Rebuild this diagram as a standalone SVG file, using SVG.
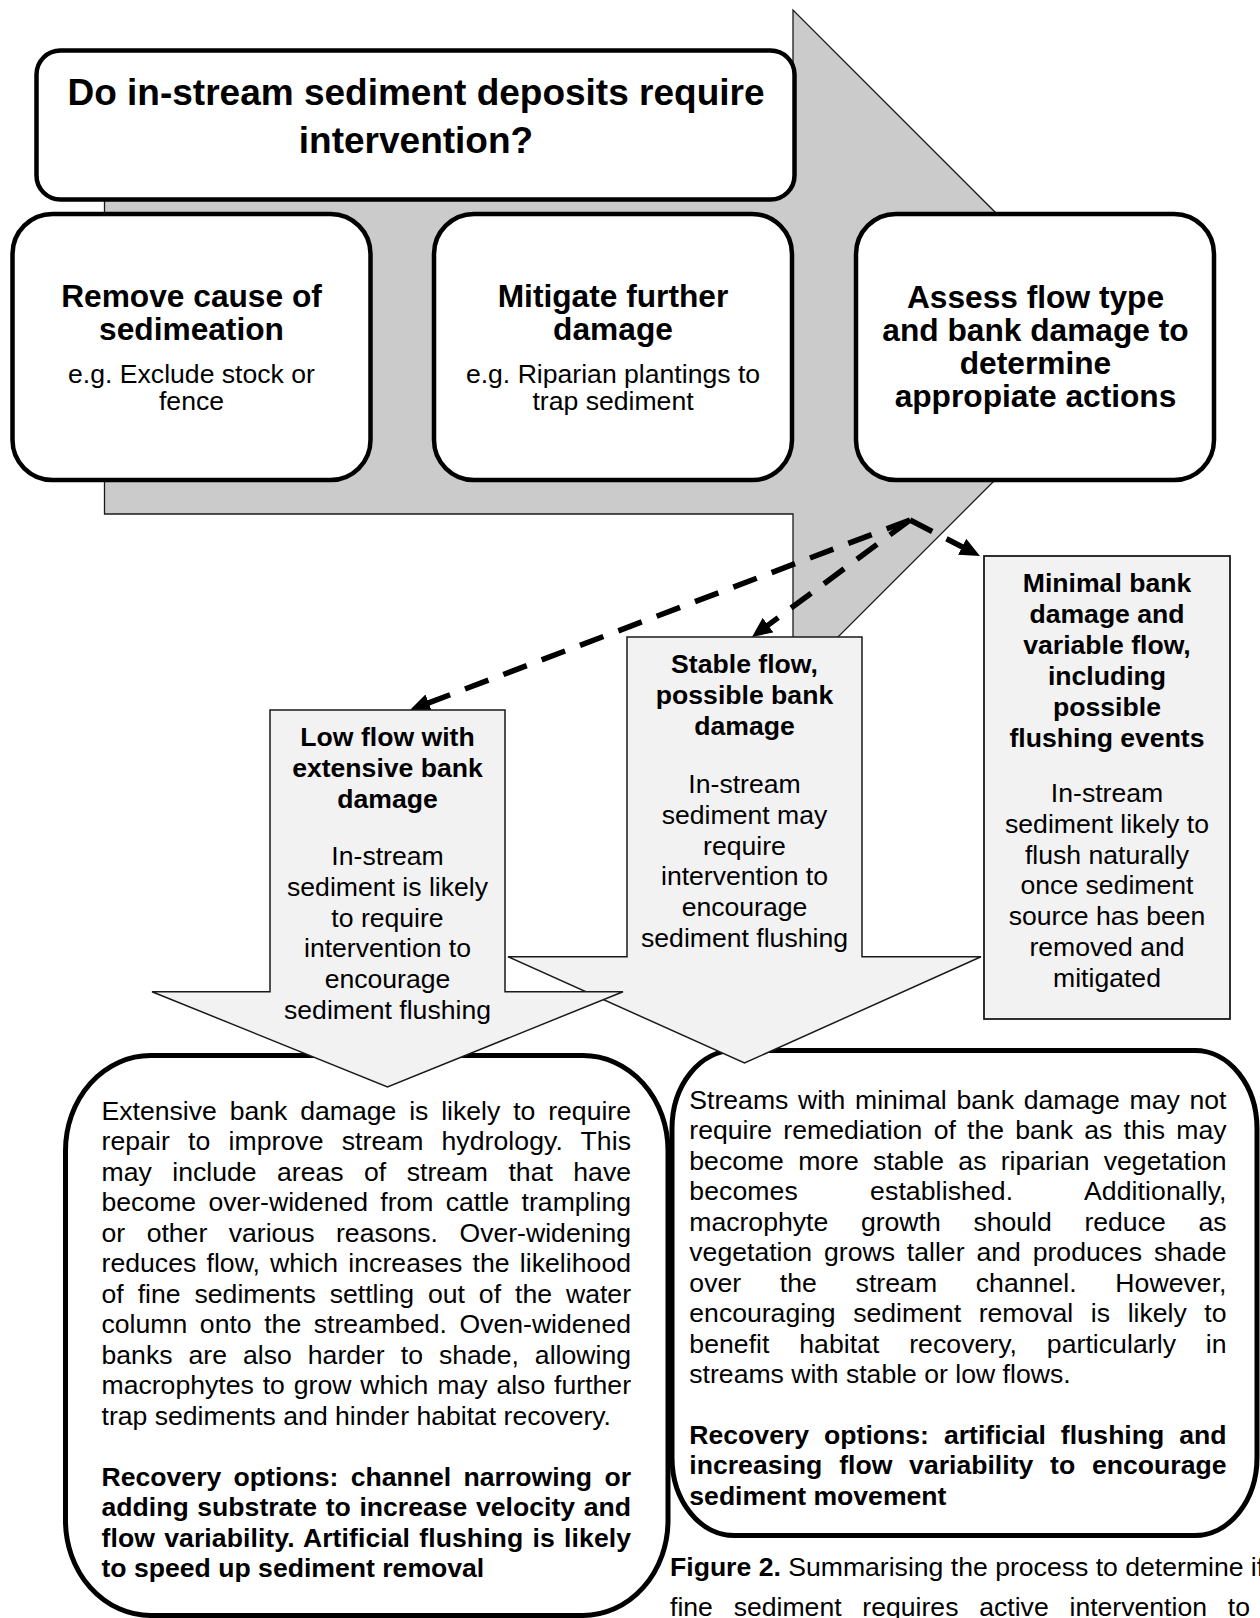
<svg xmlns="http://www.w3.org/2000/svg" width="1260" height="1618" viewBox="0 0 1260 1618">
<defs>
<style>
.t{font-family:"Liberation Sans",Arial,sans-serif;font-size:26.6px;fill:#000}
.b{font-weight:bold}
.c{text-anchor:middle}
.h{font-family:"Liberation Sans",Arial,sans-serif;font-size:31.7px;font-weight:bold;fill:#000;text-anchor:middle}
.box{fill:#fff;stroke:#000;stroke-width:4.5}
.big{fill:#fff;stroke:#000;stroke-width:5}
.barrow{fill:#f2f2f2;stroke:#1a1a1a;stroke-width:1.5}
.dash{fill:none;stroke:#000;stroke-width:5.5;stroke-dasharray:25 16}
</style>
<marker id="ah" markerUnits="userSpaceOnUse" viewBox="0 0 20 18" refX="8" refY="9" markerWidth="20" markerHeight="18" orient="auto">
<path d="M0,0 L20,9 L0,18 z" fill="#000"/>
</marker>
</defs>
<rect width="1260" height="1618" fill="#fff"/>

<g id="main-arrow">
<polygon points="104.5,178 793,178 793,10 1129,346 793,682 793,514 104.5,514" fill="#cbcbcb" stroke="#1a1a1a" stroke-width="1.3"/>
</g>

<g id="title">
<rect class="box" x="36.5" y="50.5" width="758" height="149" rx="24"/>
<text class="t b c" style="font-size:37px" x="416" y="104.5">Do in-stream sediment deposits require</text>
<text class="t b c" style="font-size:37px" x="416" y="152.5">intervention?</text>
</g>

<g id="box-remove">
<rect class="box" x="12.5" y="214" width="358" height="266" rx="40"/>
<text class="h" x="191.5" y="307">Remove cause of</text>
<text class="h" x="191.5" y="340">sedimeation</text>
<text class="t c" x="191.5" y="383">e.g. Exclude stock or</text>
<text class="t c" x="191.5" y="410">fence</text>
</g>

<g id="box-mitigate">
<rect class="box" x="434" y="214" width="358" height="266" rx="40"/>
<text class="h" x="613" y="307">Mitigate further</text>
<text class="h" x="613" y="340">damage</text>
<text class="t c" x="613" y="383">e.g. Riparian plantings to</text>
<text class="t c" x="613" y="410">trap sediment</text>
</g>

<g id="box-assess">
<rect class="box" x="856" y="214" width="358" height="266" rx="40"/>
<text class="h" x="1035.5" y="308">Assess flow type</text>
<text class="h" x="1035.5" y="341">and bank damage to</text>
<text class="h" x="1035.5" y="374">determine</text>
<text class="h" x="1035.5" y="407">appropiate actions</text>
</g>

<g id="connectors">
<path class="dash" d="M910,520 L421.2,705.7" marker-end="url(#ah)"/>
<path class="dash" d="M910,520 L761.6,629.9" marker-end="url(#ah)"/>
<path class="dash" d="M910,520 L969.3,550.5" marker-end="url(#ah)"/>
</g>

<g id="box-minimal">
<rect x="984" y="556" width="246" height="463" fill="#f2f2f2" stroke="#1a1a1a" stroke-width="1.8"/>
<text class="t b c" x="1107" y="591.5">Minimal bank</text>
<text class="t b c" x="1107" y="622.5">damage and</text>
<text class="t b c" x="1107" y="653.5">variable flow,</text>
<text class="t b c" x="1107" y="684.5">including</text>
<text class="t b c" x="1107" y="715.5">possible</text>
<text class="t b c" x="1107" y="746.5">flushing events</text>
<text class="t c" x="1107" y="802">In-stream</text>
<text class="t c" x="1107" y="833">sediment likely to</text>
<text class="t c" x="1107" y="864">flush naturally</text>
<text class="t c" x="1107" y="894">once sediment</text>
<text class="t c" x="1107" y="925">source has been</text>
<text class="t c" x="1107" y="956">removed and</text>
<text class="t c" x="1107" y="987">mitigated</text>
</g>

<g id="box-extensive">
<rect class="big" x="65.5" y="1055.5" width="602.5" height="560" rx="85" ry="95"/>
<text class="t" x="101.5" y="1119.5" textLength="529.5" lengthAdjust="spacing" style="word-spacing:5.47px">Extensive bank damage is likely to require</text>
<text class="t" x="101.5" y="1150" textLength="529.5" lengthAdjust="spacing" style="word-spacing:10.7px">repair to improve stream hydrology. This</text>
<text class="t" x="101.5" y="1180.6" textLength="529.5" lengthAdjust="spacing" style="word-spacing:13.1px">may include areas of stream that have</text>
<text class="t" x="101.5" y="1211.1" textLength="529.5" lengthAdjust="spacing" style="word-spacing:4.9px">become over-widened from cattle trampling</text>
<text class="t" x="101.5" y="1241.7" textLength="529.5" lengthAdjust="spacing" style="word-spacing:14.1px">or other various reasons. Over-widening</text>
<text class="t" x="101.5" y="1272.2" textLength="529.5" lengthAdjust="spacing" style="word-spacing:2.7px">reduces flow, which increases the likelihood</text>
<text class="t" x="101.5" y="1302.8" textLength="529.5" lengthAdjust="spacing" style="word-spacing:6.57px">of fine sediments settling out of the water</text>
<text class="t" x="101.5" y="1333.3" textLength="529.5" lengthAdjust="spacing" style="word-spacing:5.2px">column onto the streambed. Oven-widened</text>
<text class="t" x="101.5" y="1363.9" textLength="529.5" lengthAdjust="spacing" style="word-spacing:8.65px">banks are also harder to shade, allowing</text>
<text class="t" x="101.5" y="1394.4" textLength="529.5" lengthAdjust="spacing" style="word-spacing:1.5px">macrophytes to grow which may also further</text>
<text class="t" x="101.5" y="1425">trap sediments and hinder habitat recovery.</text>
<text class="t b" x="101.5" y="1485.5" textLength="529.5" lengthAdjust="spacing" style="word-spacing:4.9px">Recovery options: channel narrowing or</text>
<text class="t b" x="101.5" y="1516" textLength="529.5" lengthAdjust="spacing" style="word-spacing:1.24px">adding substrate to increase velocity and</text>
<text class="t b" x="101.5" y="1546.6" textLength="529.5" lengthAdjust="spacing" style="word-spacing:1.8px">flow variability. Artificial flushing is likely</text>
<text class="t b" x="101.5" y="1577.1">to speed up sediment removal</text>
</g>

<g id="box-minimal-damage">
<rect class="big" x="672" y="1050.5" width="585" height="485" rx="62" ry="78"/>
<text class="t" x="689.3" y="1108.5" textLength="537.2" lengthAdjust="spacing" style="word-spacing:2.3px">Streams with minimal bank damage may not</text>
<text class="t" x="689.3" y="1139" textLength="537.2" lengthAdjust="spacing" style="word-spacing:3.87px">require remediation of the bank as this may</text>
<text class="t" x="689.3" y="1169.6" textLength="537.2" lengthAdjust="spacing" style="word-spacing:6.9px">become more stable as riparian vegetation</text>
<text class="t" x="689.3" y="1200.1" textLength="537.2" lengthAdjust="spacing" style="word-spacing:64.8px">becomes established. Additionally,</text>
<text class="t" x="689.3" y="1230.7" textLength="537.2" lengthAdjust="spacing" style="word-spacing:25.3px">macrophyte growth should reduce as</text>
<text class="t" x="689.3" y="1261.2" textLength="537.2" lengthAdjust="spacing" style="word-spacing:4.5px">vegetation grows taller and produces shade</text>
<text class="t" x="689.3" y="1291.8" textLength="537.2" lengthAdjust="spacing" style="word-spacing:31.2px">over the stream channel. However,</text>
<text class="t" x="689.3" y="1322.3" textLength="537.2" lengthAdjust="spacing" style="word-spacing:10.2px">encouraging sediment removal is likely to</text>
<text class="t" x="689.3" y="1352.9" textLength="537.2" lengthAdjust="spacing" style="word-spacing:22.3px">benefit habitat recovery, particularly in</text>
<text class="t" x="689.3" y="1383.4">streams with stable or low flows.</text>
<text class="t b" x="689.3" y="1443.5" textLength="537.2" lengthAdjust="spacing" style="word-spacing:7.55px">Recovery options: artificial flushing and</text>
<text class="t b" x="689.3" y="1474" textLength="537.2" lengthAdjust="spacing" style="word-spacing:9.4px">increasing flow variability to encourage</text>
<text class="t b" x="689.3" y="1504.6">sediment movement</text>
</g>

<g id="arrow-stable">
<polygon class="barrow" points="627,637 862,637 862,956.7 981,956.7 744.5,1063 508,956.7 627,956.7"/>
<text class="t b c" x="744.5" y="673">Stable flow,</text>
<text class="t b c" x="744.5" y="704">possible bank</text>
<text class="t b c" x="744.5" y="735">damage</text>
<text class="t c" x="744.5" y="792.7">In-stream</text>
<text class="t c" x="744.5" y="823.7">sediment may</text>
<text class="t c" x="744.5" y="854.6">require</text>
<text class="t c" x="744.5" y="884.5">intervention to</text>
<text class="t c" x="744.5" y="915.5">encourage</text>
<text class="t c" x="744.5" y="946.5">sediment flushing</text>
</g>

<g id="arrow-low">
<polygon class="barrow" points="270,710 505,710 505,991.7 623,991.7 387.5,1087 152,991.7 270,991.7"/>
<text class="t b c" x="387.5" y="746.3">Low flow with</text>
<text class="t b c" x="387.5" y="777.2">extensive bank</text>
<text class="t b c" x="387.5" y="808.2">damage</text>
<text class="t c" x="387.5" y="865">In-stream</text>
<text class="t c" x="387.5" y="896">sediment is likely</text>
<text class="t c" x="387.5" y="927">to require</text>
<text class="t c" x="387.5" y="956.8">intervention to</text>
<text class="t c" x="387.5" y="987.7">encourage</text>
<text class="t c" x="387.5" y="1018.7">sediment flushing</text>
</g>

<g id="caption">
<text class="t" x="670" y="1576"><tspan class="b">Figure 2.</tspan> Summarising the process to determine if</text>
<text class="t" x="670" y="1616" style="word-spacing:13.4px">fine sediment requires active intervention to</text>
</g>
</svg>
